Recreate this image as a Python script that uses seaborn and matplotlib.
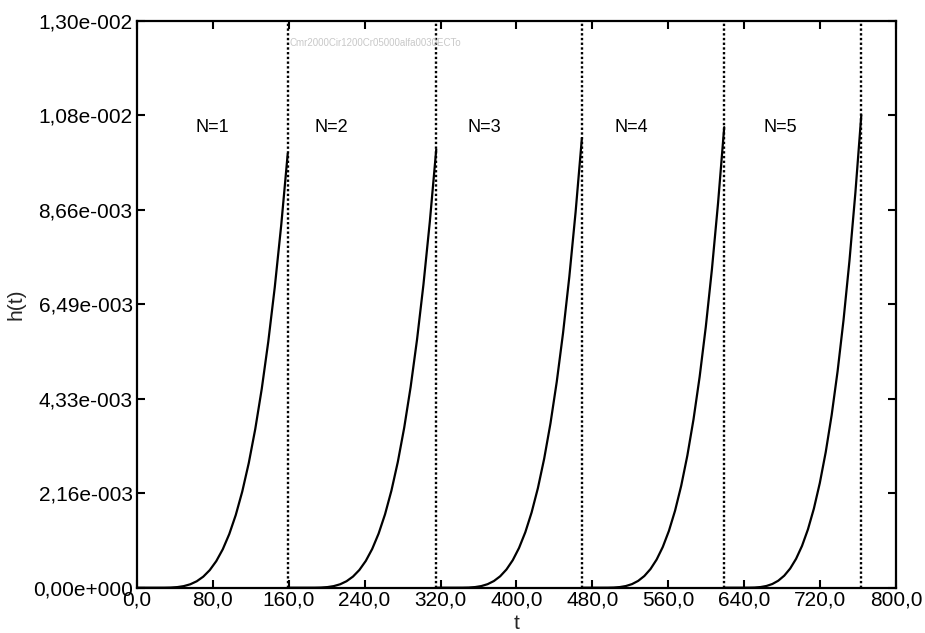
import numpy as np
import pandas as pd
import matplotlib
matplotlib.use("Agg")
import matplotlib.pyplot as plt
from matplotlib.ticker import FuncFormatter, FixedLocator, FixedFormatter
import seaborn as sns

# Cycle boundaries (time at which each cycle starts and ends)
cycle_labels = ["N=1", "N=2", "N=3", "N=4", "N=5"]
cycle_start = [0.0, 159.0, 315.5, 469.0, 619.0]
cycle_end = [159.0, 315.5, 469.0, 619.0, 763.5]
# Time at which h(t) starts to lift off the axis in each cycle
rise_start = [22.0, 180.5, 336.5, 489.5, 638.5]
# Value of h(t) reached at the end of each cycle
peak_h = [0.00996, 0.01005, 0.01031, 0.01056, 0.01084]

# Rise profile of h(t) within a cycle, h / peak, at equal steps of
# (t - rise_start) / (cycle_end - rise_start)
rise_frac = [0.00, 0.05, 0.10, 0.15, 0.20, 0.25, 0.30, 0.35, 0.40, 0.45, 0.50,
             0.55, 0.60, 0.65, 0.70, 0.75, 0.80, 0.85, 0.90, 0.95, 1.00]
rise_shape = [0.0, 0.00003, 0.00032, 0.00131, 0.00358, 0.00781, 0.01479,
              0.02536, 0.04048, 0.06113, 0.08839, 0.12339, 0.16731, 0.22141,
              0.28698, 0.36535, 0.45795, 0.56619, 0.69159, 0.83567, 1.0]

# Axis ticks
x_ticks = [0, 80, 160, 240, 320, 400, 480, 560, 640, 720, 800]
y_max = 0.013
y_ticks = [0.0, 0.0021667, 0.0043333, 0.0065, 0.0086667, 0.0108333, 0.013]
y_tick_labels = ["0,00e+000", "2,16e-003", "4,33e-003", "6,49e-003",
                 "8,66e-003", "1,08e-002", "1,30e-002"]

# Position of the cycle labels
label_t = [80, 205, 366, 521, 678]
label_h = 0.01056

run_tag = "Cmr2000Cir1200Cr05000alfa0030ECTo"

rows = []
for k, lab in enumerate(cycle_labels):
    rows.append({"cycle": lab, "t": cycle_start[k], "h": 0.0})
    span = cycle_end[k] - rise_start[k]
    for f, s in zip(rise_frac, rise_shape):
        rows.append({"cycle": lab, "t": rise_start[k] + f * span,
                     "h": peak_h[k] * s})
df = pd.DataFrame(rows)

sns.set_theme(style="ticks")
plt.rcParams["font.family"] = ["Liberation Sans", "DejaVu Sans"]

fig = plt.figure(figsize=(9.25, 6.33), dpi=100)
ax = fig.add_axes([0.148, 0.0716, 0.8206, 0.8956])

sns.lineplot(data=df, x="t", y="h", units="cycle", estimator=None,
             color="black", linewidth=1.6, ax=ax, sort=False)

for k in range(len(cycle_end)):
    ax.axvline(cycle_end[k], color="black", linewidth=1.7,
               linestyle=(0, (1, 1)), zorder=1)
    ax.text(label_t[k], label_h, cycle_labels[k], ha="center", va="center",
            fontsize=13, color="black")

ax.text(cycle_start[1] + 2, 0.01249, run_tag, ha="left", va="center",
        fontsize=7, color="#c8c8c8")

ax.set_xlim(0, 800)
ax.set_ylim(0, y_max)
ax.xaxis.set_major_locator(FixedLocator(x_ticks))
ax.yaxis.set_major_locator(FixedLocator(y_ticks))


def fmt_x(v, pos):
    return f"{v:.1f}".replace(".", ",")


ax.xaxis.set_major_formatter(FuncFormatter(fmt_x))
ax.yaxis.set_major_formatter(FixedFormatter(y_tick_labels))

ax.tick_params(direction="in", length=6, width=1.5, top=True, right=True,
               labelsize=15, colors="black")
ax.tick_params(axis="x", pad=2)
ax.tick_params(axis="y", pad=3)
for sp in ax.spines.values():
    sp.set_linewidth(1.6)
    sp.set_color("black")
    sp.set_visible(True)

ax.set_xlabel("t", fontsize=15, labelpad=3)
ax.set_ylabel("h(t)", fontsize=15, labelpad=5)

fig.savefig("out.png", dpi=100)
